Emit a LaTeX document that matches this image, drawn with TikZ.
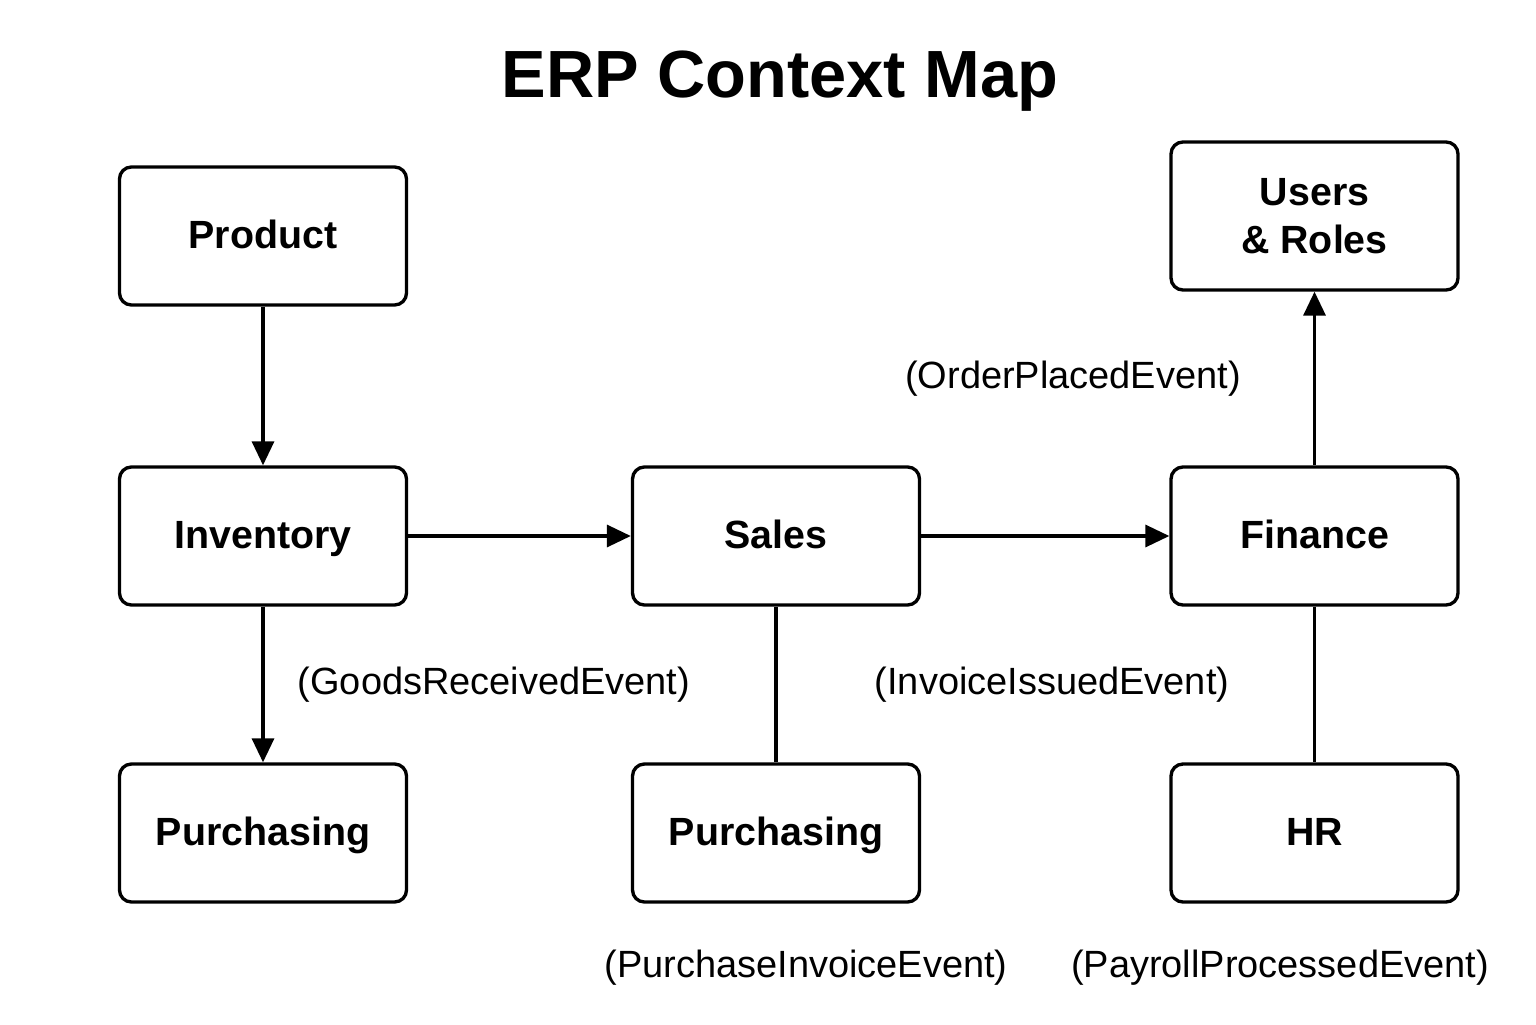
\documentclass[tikz,border=0pt]{standalone}
\usepackage{fontspec}
\setmainfont{Liberation Sans}
\usetikzlibrary{arrows.meta}

\begin{document}
\begin{tikzpicture}[
    ctxbase/.style={draw, line width=0.95pt, rounded corners=3.4pt, minimum width=2.87cm,
      minimum height=1.38cm, inner sep=0pt, align=center,
      font=\fontsize{11.2}{13.7}\selectfont\bfseries},
    ctx/.style={ctxbase, text height=0.72em, text depth=0pt},
    evt/.style={font=\fontsize{10.8}{13}\selectfont},
    flow/.style={line width=0.95pt, -{Triangle[length=0.24cm, width=0.22cm]}},
    link/.style={line width=0.95pt}]
                      \useasboundingbox (0,0) rectangle (15.36,10.24);
                      \node[font=\fontsize{19}{23}\selectfont\bfseries] (title) at (7.80,9.43) {ERP Context Map};
                      % contexts
                      \node[ctx] (product) at (2.63,7.88) {Product};
                      \node[ctx] (inventory) at (2.63,4.88) {Inventory};
                      \node[ctx] (purchasingA) at (2.63,1.91) {Purchasing};
                      \node[ctx] (sales) at (7.76,4.88) {Sales};
                      \node[ctx] (purchasingB) at (7.76,1.91) {Purchasing};
                      \node[ctx] (finance) at (13.145,4.88) {Finance};
                      \node[ctxbase, minimum height=1.48cm] (users) at (13.145,8.08) {Users\\\& Roles};
                      \node[ctx] (hr) at (13.145,1.91) {HR};
                      % events
                      \node[evt] (orderplaced) at (10.73,6.45) {(OrderPlacedEvent)};
                      \node[evt] (goodsreceived) at (4.94,3.39) {(GoodsReceivedEvent)};
                      \node[evt] (invoiceissued) at (10.52,3.39) {(InvoiceIssuedEvent)};
                      \node[evt] (purchaseinvoice) at (8.06,0.56) {(PurchaseInvoiceEvent)};
                      \node[evt] (payroll) at (12.80,0.56) {(PayrollProcessedEvent)};
                      % relations
                      \draw[flow] (product) -- (inventory);
                      \draw[flow] (inventory) -- (purchasingA);
                      \draw[flow] (inventory) -- (sales);
                      \draw[flow] (sales) -- (finance);
                      \draw[flow] (finance) -- (users);
                      \draw[link] (sales) -- (purchasingB);
                      \draw[link] (finance) -- (hr);
                  \end{tikzpicture}
\end{document}
